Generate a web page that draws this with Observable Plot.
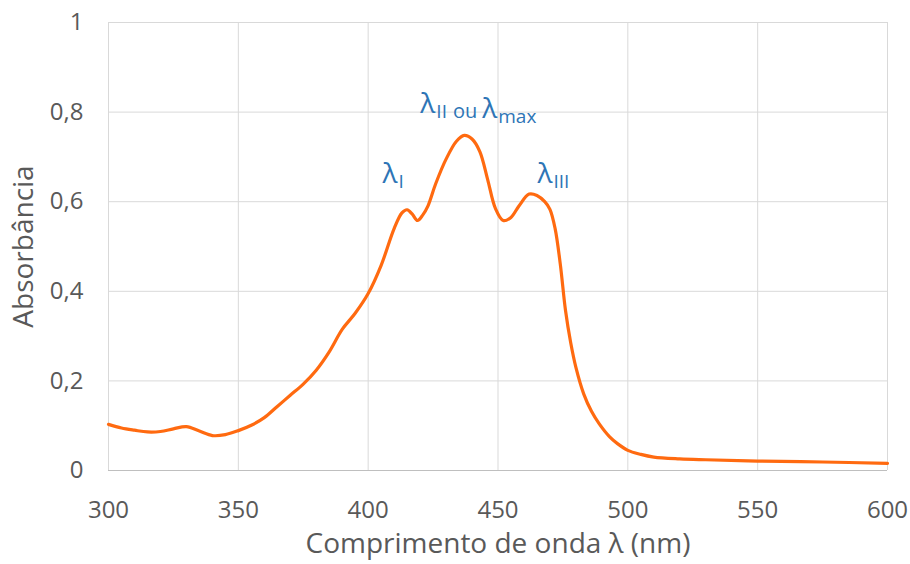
<!DOCTYPE html>
<html>
<head>
<meta charset="utf-8">
<script src="https://cdn.jsdelivr.net/npm/d3@7"></script>
<script src="https://cdn.jsdelivr.net/npm/@observablehq/plot@0.6"></script>
<style>
  html, body { margin: 0; padding: 0; background: #fff; }
  svg { display: block; }
</style>
</head>
<body>
<div id="chart"></div>
<script>
// Wavelength (nm) and absorbance
const wavelength = [300,305,310,315,320,325,330,335,340,345,350,355,360,365,370,375,380,385,390,395,400,405,410,413,415,417,419,421,423,426,430,434,437,440,443,446,449,452,455,458,462,465,468,470,472,474,476,478,480,483,486,489,493,496,500,505,510,520,530,550,575,600];
const absorbance = [0.103,0.095,0.090,0.086,0.087,0.093,0.098,0.088,0.078,0.080,0.089,0.101,0.118,0.143,0.168,0.193,0.224,0.265,0.315,0.351,0.395,0.458,0.540,0.575,0.582,0.572,0.558,0.570,0.590,0.640,0.695,0.735,0.748,0.740,0.712,0.650,0.585,0.558,0.565,0.590,0.617,0.614,0.600,0.583,0.540,0.460,0.357,0.285,0.230,0.171,0.132,0.104,0.075,0.060,0.045,0.036,0.030,0.026,0.024,0.021,0.019,0.016];

const xTicks = [300,350,400,450,500,550,600];
const yTicks = [0,0.2,0.4,0.6,0.8,1];

// Annotation labels: "_" marks a subscript, "|" separates segments
const labelText = ["λ_I", "λ_II|ou|λ_max", "λ_III"];
const labelX = [405.5, 420.1, 465.2];
const labelY = [0.661, 0.817, 0.661];

const xTitle = "Comprimento de onda λ (nm)";
const yTitle = "Absorbância";

const data = wavelength.map((w, i) => ({w, a: absorbance[i]}));
const labels = labelText.map((t, i) => ({t, x: labelX[i], y: labelY[i]}));

const fmtY = d => d === 0 ? "0" : d === 1 ? "1" : d.toFixed(1).replace(".", ",");

const plot = Plot.plot({
  width: 910,
  height: 564,
  marginLeft: 108,
  marginRight: 23,
  marginTop: 22,
  marginBottom: 94,
  style: {fontFamily: "'Open Sans', sans-serif", color: "#595959", background: "#fff"},
  x: {domain: [300, 600]},
  y: {domain: [0, 1]},
  marks: [
    Plot.gridX(xTicks, {stroke: "#d9d9d9", strokeOpacity: 1, strokeWidth: 1}),
    Plot.gridY(yTicks, {stroke: "#d9d9d9", strokeOpacity: 1, strokeWidth: 1}),
    Plot.ruleY([0], {stroke: "#bfbfbf", strokeWidth: 1}),
    Plot.axisX(xTicks, {tickSize: 0, tickPadding: 30, fontSize: 24, fill: "#595959", label: null}),
    Plot.axisY(yTicks, {tickSize: 0, tickPadding: 25, fontSize: 24, fill: "#595959", tickFormat: fmtY, label: null}),
    Plot.line(data, {x: "w", y: "a", stroke: "#FF6A10", strokeWidth: 3.2, curve: "catmull-rom"}),
    Plot.text(labels, {x: "x", y: "y", text: "t", textAnchor: "start", lineAnchor: "middle", fontSize: 28, fill: "#2E75B6"}),
    Plot.text([xTitle], {frameAnchor: "bottom", textAnchor: "middle", dy: 74, lineAnchor: "middle", fontSize: 28, fill: "#595959"}),
    Plot.text([yTitle], {frameAnchor: "left", textAnchor: "middle", dx: -84, rotate: -90, lineAnchor: "middle", fontSize: 28, fill: "#595959"})
  ]
});

// Render subscripts as tspans
d3.select(plot).selectAll("text").filter(function() { return this.textContent.includes("_"); }).each(function() {
  const el = d3.select(this);
  const raw = this.textContent;
  el.text(null);
  raw.split("|").forEach((seg, i) => {
    if (seg.includes("_")) {
      const [base, sub] = seg.split("_");
      el.append("tspan").attr("dx", i > 0 ? 5 : 0).text(base);
      el.append("tspan").attr("font-size", 19).attr("dy", 5).attr("dx", 1).text(sub);
      el.append("tspan").attr("dy", -5).text("");
    } else {
      el.append("tspan").attr("font-size", 20).attr("dx", 6).text(seg);
    }
  });
});

document.getElementById("chart").appendChild(plot);
</script>
</body>
</html>
